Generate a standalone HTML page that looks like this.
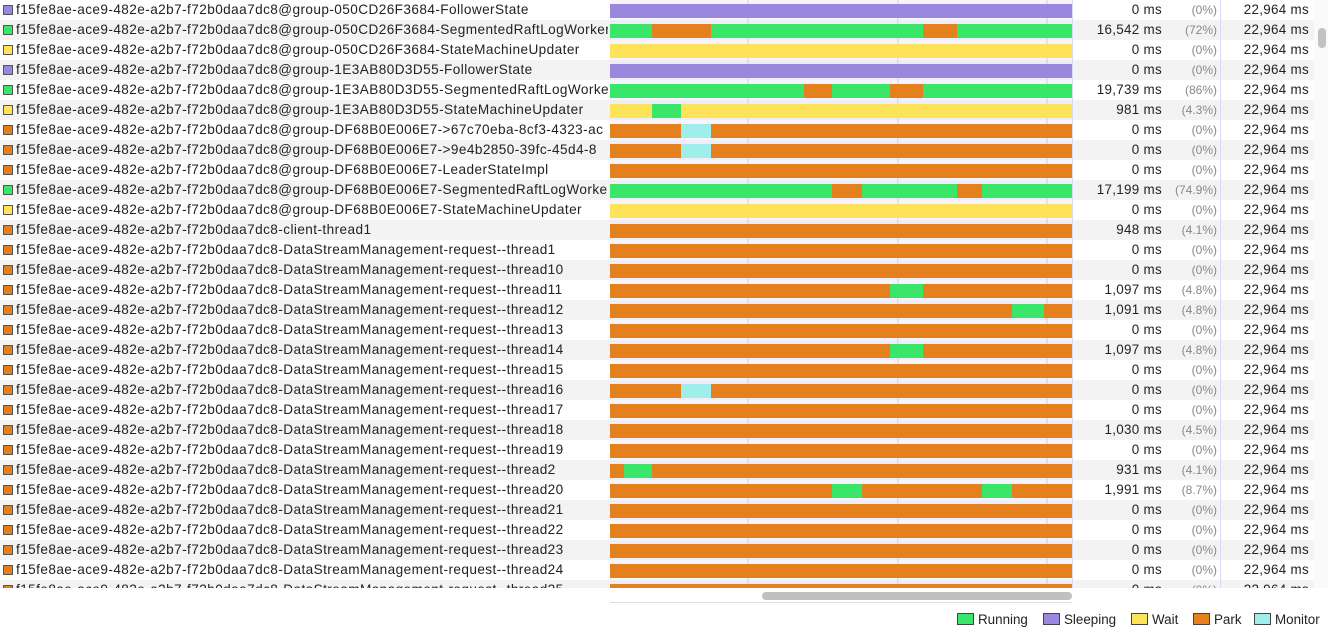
<!DOCTYPE html>
<html><head><meta charset="utf-8">
<style>
body{margin:0;width:1328px;height:638px;overflow:hidden;background:#fff;font-family:"Liberation Sans",sans-serif;position:relative}
#rows{position:absolute;left:0;top:0;width:1314px;height:588px;overflow:hidden}
.row{position:absolute;left:0;width:1314px;height:20px}
.row.alt{background:#f3f3f3}
.sw{position:absolute;left:3px;top:5px;width:8px;height:8px;border:1px solid #555}
.nm{position:absolute;left:16px;top:2px;width:592px;overflow:hidden;white-space:nowrap;font-size:13.6px;letter-spacing:0.42px;color:#222}
.ms{position:absolute;right:152px;top:2px;font-size:13.4px;letter-spacing:0.3px;color:#222;white-space:nowrap}
.pc{position:absolute;right:97px;top:3px;font-size:12px;color:#888;white-space:nowrap}
.tt{position:absolute;right:5px;top:2px;font-size:13.4px;letter-spacing:0.3px;color:#222;white-space:nowrap}
.lg{position:absolute;top:612px;font-size:13.4px;color:#222;white-space:nowrap}
.lg i{display:inline-block;width:15px;height:10px;border:1px solid #444;vertical-align:-1px;margin-right:4px}
</style></head><body>
<div id="rows"></div>
<svg id="tl" style="position:absolute;left:0;top:0" width="1328" height="638"></svg>
<div style="position:absolute;left:1314px;top:0;width:14px;height:588px;background:#fafafa"><div style="position:absolute;left:4px;top:28px;width:8px;height:20px;border-radius:4px;background:#c2c2c2"></div></div>
<div style="position:absolute;left:762px;top:592px;width:310px;height:8px;border-radius:4px;background:#c0c0c0"></div>
<div class="lg" style="left:957px"><i style="background:#3ae66a"></i>Running</div>
<div class="lg" style="left:1043px"><i style="background:#9a88de"></i>Sleeping</div>
<div class="lg" style="left:1131px"><i style="background:#fde35a"></i>Wait</div>
<div class="lg" style="left:1193px"><i style="background:#e5801f"></i>Park</div>
<div class="lg" style="left:1254px"><i style="background:#a0eeeb"></i>Monitor</div>
<script>
const P="f15fe8ae-ace9-482e-a2b7-f72b0daa7dc8";
const names=["@group-050CD26F3684-FollowerState","@group-050CD26F3684-SegmentedRaftLogWorker","@group-050CD26F3684-StateMachineUpdater","@group-1E3AB80D3D55-FollowerState","@group-1E3AB80D3D55-SegmentedRaftLogWorker","@group-1E3AB80D3D55-StateMachineUpdater","@group-DF68B0E006E7->67c70eba-8cf3-4323-ac","@group-DF68B0E006E7->9e4b2850-39fc-45d4-8","@group-DF68B0E006E7-LeaderStateImpl","@group-DF68B0E006E7-SegmentedRaftLogWorker","@group-DF68B0E006E7-StateMachineUpdater","-client-thread1","-DataStreamManagement-request--thread1","-DataStreamManagement-request--thread10","-DataStreamManagement-request--thread11","-DataStreamManagement-request--thread12","-DataStreamManagement-request--thread13","-DataStreamManagement-request--thread14","-DataStreamManagement-request--thread15","-DataStreamManagement-request--thread16","-DataStreamManagement-request--thread17","-DataStreamManagement-request--thread18","-DataStreamManagement-request--thread19","-DataStreamManagement-request--thread2","-DataStreamManagement-request--thread20","-DataStreamManagement-request--thread21","-DataStreamManagement-request--thread22","-DataStreamManagement-request--thread23","-DataStreamManagement-request--thread24","-DataStreamManagement-request--thread25"];
const runMs=["0","16,542","0","0","19,739","981","0","0","0","17,199","0","948","0","0","1,097","1,091","0","1,097","0","0","0","1,030","0","931","1,991","0","0","0","0","0"];
const pcts=["0%","72%","0%","0%","86%","4.3%","0%","0%","0%","74.9%","0%","4.1%","0%","0%","4.8%","4.8%","0%","4.8%","0%","0%","0%","4.5%","0%","4.1%","8.7%","0%","0%","0%","0%","0%"];
const baseState=["S","R","W","S","R","W","P","P","P","R","W","P","P","P","P","P","P","P","P","P","P","P","P","P","P","P","P","P","P","P"];
// segments: [row, state, startSec, endSec]
const segs=[[1,"P",2.09,5.02],[1,"P",15.56,17.25],[4,"P",9.64,11.03],[4,"P",13.92,15.56],[5,"R",2.09,3.53],[6,"M",3.53,5.02],[7,"M",3.53,5.02],[9,"P",11.03,12.53],[9,"P",17.25,18.49],[14,"R",13.92,15.56],[15,"R",19.98,21.57],[17,"R",13.92,15.56],[19,"M",3.53,5.02],[23,"R",0.70,2.09],[24,"R",11.03,12.53],[24,"R",18.49,19.98]];
const gridTimes=[6.86,14.31,21.72];
const total=22.964;
const C={R:"#3ae66a",S:"#9a88de",W:"#fde35a",P:"#e5801f",M:"#a0eeeb"};
const x0=610,x1=1072,X=t=>x0+t/total*(x1-x0);
const rows=document.getElementById('rows');
const svg=document.getElementById('tl');const NS="http://www.w3.org/2000/svg";
function r(x,y,w,h,f){const e=document.createElementNS(NS,'rect');e.setAttribute('x',x);e.setAttribute('y',y);e.setAttribute('width',w);e.setAttribute('height',h);e.setAttribute('fill',f);svg.appendChild(e);return e;}
r(x0,0,x1-x0,603,"#f6f5fc");
names.forEach((n,i)=>{
  const d=document.createElement('div');d.className='row'+(i%2?' alt':'');d.style.top=(i*20)+'px';
  
  
  d.innerHTML='<span class="sw" style="background:'+C[baseState[i]]+'"></span><span class="nm">'+P+n+'</span><span class="ms">'+runMs[i]+' ms</span><span class="pc">('+pcts[i]+')</span><span class="tt">22,964 ms</span>';
  rows.appendChild(d);
  if(i%2)r(x0,i*20,x1-x0,20,"#efedf8");
});
gridTimes.forEach(t=>{const l=r(X(t)-0.5,0,1,603,"#cfcfd6");});
names.forEach((n,i)=>{
  const y=i*20+4;if(y>588)return;
  const h=Math.min(14,588-y);
  const b=r(x0,y,x1-x0,h,C[baseState[i]]);
  
  
});
segs.forEach(s=>{const e=r(X(s[2]),s[0]*20+4,X(s[3])-X(s[2]),14,C[s[1]]);
  
  });
r(x0,588,x1-x0,15,"#fff");
r(x0,602,x1-x0,1,"#ddd");
r(1072,0,1,588,"#d6dcf5");r(1220,0,1,588,"#d6dcf5");
</script>
</body></html>
